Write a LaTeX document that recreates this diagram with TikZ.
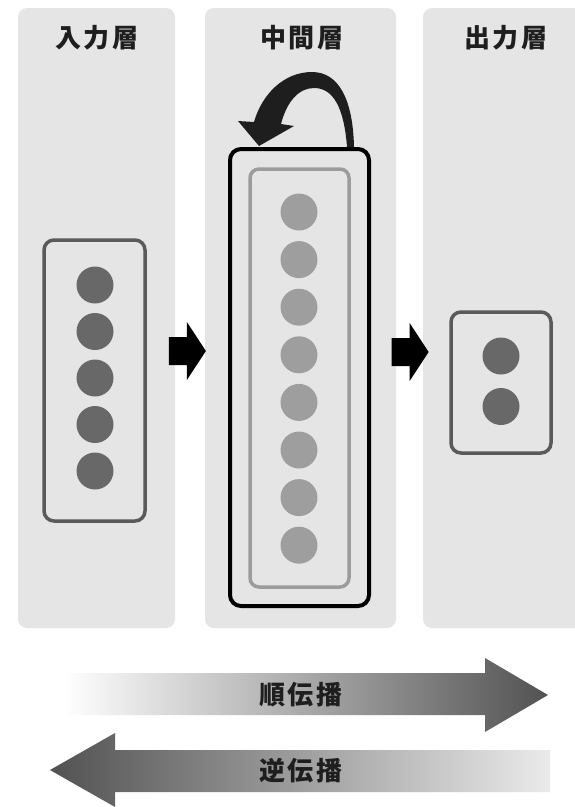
\documentclass[tikz,border=0pt]{standalone}
\usepackage{fontspec}
\newfontfamily\jp[LetterSpace=10]{Noto Sans CJK JP}
\usetikzlibrary{calc}
\definecolor{panelgray}{HTML}{E5E5E5}
\definecolor{boxgray}{HTML}{5A5A5A}
\definecolor{innergray}{HTML}{9C9C9C}
\definecolor{unitdark}{HTML}{686868}
\definecolor{unitlight}{HTML}{9E9E9E}
\definecolor{inkdark}{HTML}{1E1E1E}
\tikzset{
  panel/.style={fill=panelgray, rounded corners=9pt, inner sep=0pt},
  layerbox/.style={draw=boxgray, line width=3.5pt, rounded corners=10pt, inner sep=0pt},
  hiddenbox/.style={draw=black, line width=4pt, rounded corners=11pt, inner sep=0pt},
  innerbox/.style={draw=innergray, line width=3.5pt, rounded corners=9pt, inner sep=0pt},
  unit/.style={circle, inner sep=0pt, minimum size=37pt},
  title/.style={font=\jp\bfseries\fontsize{26}{26}\selectfont, text=inkdark},
  flowlabel/.style={font=\jp\bfseries\fontsize{26}{26}\selectfont, text=inkdark},
}
\begin{document}
\begin{tikzpicture}[x=1pt, y=-1pt]
  \useasboundingbox (0,0) rectangle (575,807);
  \fill[white] (0,0) rectangle (575,807);

  % layer panels
  \node[panel, minimum width=157, minimum height=620] (p1) at (96.5,318) {};
  \node[panel, minimum width=191, minimum height=620] (p2) at (300.5,318) {};
  \node[panel, minimum width=172, minimum height=620] (p3) at (509,318) {};

  % panel titles
  \node[title] (t1) at (97,38) {入力層};
  \node[title] (t2) at (302,38) {中間層};
  \node[title] (t3) at (506,38) {出力層};

  % input layer
  \node[layerbox, minimum width=101, minimum height=281] (inbox) at (94.5,380.5) {};
  \foreach \i/\y in {1/285,2/331.5,3/378,4/424.5,5/471}
    \node[unit, fill=unitdark] (in\i) at (95,\y) {};

  % hidden layer
  \node[hiddenbox, minimum width=139, minimum height=457] (hidout) at (299.5,377.5) {};
  \node[innerbox, minimum width=99, minimum height=418] (hidin) at (299.5,378) {};
  \foreach \i in {0,...,7}
    \node[unit, fill=unitlight] (h\i) at (299, 212+47.6*\i) {};

  % output layer
  \node[layerbox, minimum width=100, minimum height=141] (outbox) at (501,382.5) {};
  \node[unit, fill=unitdark] (o1) at (501,356) {};
  \node[unit, fill=unitdark] (o2) at (501,406.5) {};

  % block arrows between layers
  \coordinate (a1) at ($(inbox.east)!0.5!(hidout.west)$);
  \coordinate (a2) at ($(hidout.east)!0.5!(outbox.west)$);
  \foreach \c in {a1,a2}
    \fill[black] ([xshift=-18.5pt, yshift=14pt]\c) -- ++(18,0) -- ++(0,15) -- ++(19,-29)
      -- ++(-19,-29) -- ++(0,15) -- ++(-18,0) -- cycle;

  % recurrent loop over the hidden layer
  \fill[inkdark] (254,122) .. controls (262,94) and (284,72) .. (312,72)
    .. controls (339,72) and (353,100) .. (354,147)
    -- (347,147) .. controls (344,107) and (333,88) .. (314,88)
    .. controls (299,88) and (287,101) .. (281,124)
    -- (294,126) -- (259,146) -- (238,121) -- cycle;

  % forward propagation
  \shade[left color=white, right color=black!68]
    (64,673) -- (485,673) -- (485,658) -- (548,695) -- (485,732) -- (485,715) -- (64,715) -- cycle;
  \node[flowlabel] (fwd) at (301,695) {順伝播};

  % backward propagation
  \shade[left color=black!68, right color=black!8]
    (550,750) -- (115,750) -- (115,733) -- (50,770) -- (115,807) -- (115,792) -- (550,792) -- cycle;
  \node[flowlabel] (bwd) at (301,771) {逆伝播};
\end{tikzpicture}
\end{document}
